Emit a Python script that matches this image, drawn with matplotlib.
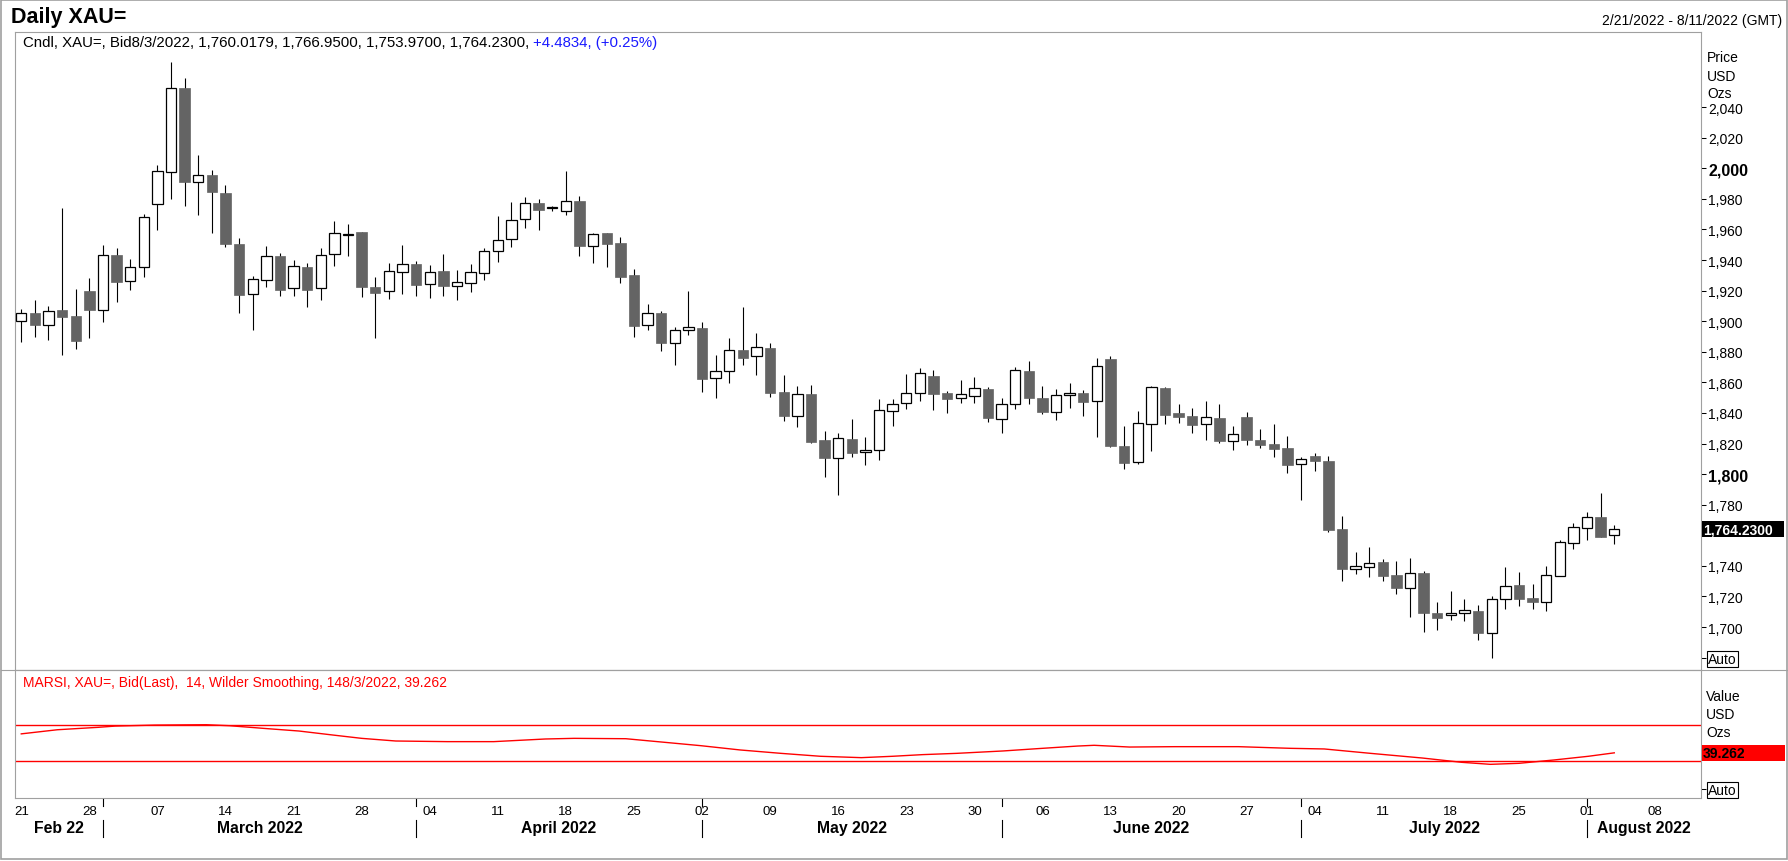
import numpy as np
import pandas as pd
import matplotlib
matplotlib.use("Agg")
import matplotlib.pyplot as plt
import matplotlib.transforms as mtransforms
from matplotlib.patches import Rectangle
from matplotlib.lines import Line2D

# ── Visual setup ─────────────────────────────────────────────────────────────
plt.rcParams.update({
    "font.family": "Liberation Sans",
    "font.size": 10,
})

W, H, DPI = 1788, 862, 100
FRAME = "#a0a0a0"
DOWN = "#646464"

# ── Data ─────────────────────────────────────────────────────────────────────
opens = [1899.9, 1905.2, 1897.7, 1907.3, 1903.4, 1919.8, 1907.5, 1943.3, 1926.1, 1935.2,
         1976.4, 1997.4, 2052.5, 1990.8, 1995.6, 1983.8, 1950.5, 1917.6, 1926.7, 1942.6,
         1921.5, 1935.5, 1921.5, 1943.8, 1956.6, 1958.4, 1922.4, 1919.6, 1932.0, 1937.4,
         1924.1, 1932.8, 1922.8, 1924.8, 1931.3, 1945.7, 1953.6, 1966.6, 1977.3, 1973.8,
         1971.9, 1978.6, 1949.4, 1957.7, 1951.2, 1930.3, 1897.2, 1905.4, 1885.5, 1894.0,
         1895.6, 1862.6, 1867.2, 1881.2, 1877.0, 1882.5, 1853.6, 1837.8, 1852.4, 1822.3,
         1810.4, 1823.0, 1814.3, 1815.6, 1841.1, 1846.3, 1852.9, 1864.2, 1853.1, 1849.6,
         1850.9, 1855.7, 1835.9, 1845.7, 1867.5, 1849.8, 1840.4, 1851.6, 1853.1, 1847.6,
         1875.3, 1818.4, 1807.7, 1832.6, 1856.4, 1840.0, 1838.0, 1832.6, 1836.7, 1821.5,
         1837.4, 1822.3, 1819.7, 1817.1, 1806.4, 1811.9, 1808.6, 1763.9, 1737.8, 1739.1,
         1742.5, 1734.0, 1725.3, 1735.3, 1709.2, 1707.6, 1708.9, 1710.5, 1696.3, 1718.1,
         1727.5, 1719.0, 1716.1, 1733.1, 1754.7, 1764.5, 1771.7, 1760.0179]
highs = [1908.0, 1913.9, 1909.9, 1974.0, 1921.1, 1928.3, 1949.8, 1947.9, 1940.5, 1970.1,
         2002.2, 2069.7, 2059.1, 2008.7, 1998.9, 1989.1, 1954.4, 1929.6, 1949.2, 1944.6,
         1940.0, 1938.1, 1947.9, 1965.6, 1963.6, 1958.6, 1928.9, 1938.1, 1949.9, 1939.4,
         1936.8, 1943.8, 1933.5, 1937.2, 1947.9, 1968.6, 1978.0, 1981.2, 1979.7, 1975.4,
         1998.3, 1981.7, 1957.7, 1957.9, 1955.1, 1934.2, 1911.3, 1906.5, 1896.0, 1919.8,
         1899.4, 1877.9, 1888.8, 1909.2, 1892.3, 1885.7, 1864.8, 1857.6, 1858.3, 1828.2,
         1826.9, 1836.1, 1824.3, 1849.2, 1849.2, 1865.5, 1869.4, 1868.1, 1854.2, 1861.6,
         1863.5, 1856.8, 1849.6, 1870.1, 1874.0, 1857.7, 1855.7, 1859.8, 1855.0, 1876.0,
         1877.1, 1831.5, 1841.3, 1857.7, 1857.0, 1845.9, 1843.3, 1847.9, 1845.9, 1831.3,
         1840.7, 1829.5, 1832.8, 1825.0, 1811.0, 1814.1, 1811.9, 1772.4, 1749.1, 1752.4,
         1744.5, 1743.2, 1745.1, 1736.4, 1716.4, 1723.6, 1718.3, 1714.4, 1720.3, 1739.2,
         1736.0, 1728.1, 1739.7, 1756.7, 1768.0, 1775.2, 1787.6, 1766.95]
lows = [1886.2, 1889.9, 1887.9, 1878.1, 1881.8, 1889.0, 1899.7, 1912.8, 1920.6, 1928.7,
        1959.9, 1979.9, 1975.3, 1969.5, 1957.7, 1948.8, 1905.6, 1894.5, 1922.4, 1916.7,
        1916.7, 1909.5, 1914.1, 1936.3, 1942.9, 1916.1, 1889.2, 1914.8, 1918.0, 1916.3,
        1915.0, 1916.7, 1914.1, 1919.3, 1926.7, 1939.0, 1948.8, 1961.2, 1959.9, 1972.3,
        1969.7, 1942.9, 1938.3, 1935.7, 1925.2, 1889.9, 1894.5, 1880.7, 1871.6, 1891.2,
        1853.9, 1849.5, 1859.8, 1871.6, 1865.0, 1850.1, 1835.0, 1831.0, 1820.1, 1798.3,
        1786.4, 1811.4, 1806.2, 1809.5, 1831.7, 1842.6, 1848.1, 1842.2, 1840.2, 1846.8,
        1846.8, 1834.3, 1827.1, 1842.8, 1846.1, 1839.6, 1835.6, 1843.3, 1838.3, 1824.5,
        1818.0, 1803.6, 1806.4, 1815.4, 1833.0, 1833.7, 1827.1, 1822.6, 1820.6, 1816.0,
        1819.1, 1817.3, 1811.4, 1801.0, 1783.3, 1802.3, 1762.4, 1730.4, 1734.9, 1733.0,
        1730.3, 1721.8, 1706.8, 1697.0, 1698.3, 1704.8, 1704.2, 1691.7, 1680.0, 1712.0,
        1714.0, 1712.0, 1710.7, 1733.1, 1751.2, 1757.1, 1759.1, 1753.97]
closes = [1905.2, 1897.7, 1906.9, 1903.0, 1887.3, 1907.5, 1943.1, 1925.9, 1935.2, 1967.9,
          1998.0, 2052.5, 1991.3, 1995.4, 1984.7, 1950.5, 1917.4, 1927.4, 1942.4, 1920.6,
          1935.9, 1920.6, 1943.1, 1957.5, 1957.2, 1922.6, 1918.7, 1932.6, 1937.2, 1923.9,
          1932.0, 1923.3, 1925.4, 1932.0, 1945.7, 1952.9, 1966.0, 1977.1, 1973.0, 1974.4,
          1978.4, 1949.4, 1956.9, 1950.7, 1929.2, 1897.1, 1905.2, 1886.0, 1894.0, 1896.0,
          1862.4, 1867.2, 1881.2, 1876.2, 1882.8, 1853.3, 1837.7, 1852.2, 1821.2, 1810.8,
          1823.4, 1814.1, 1815.6, 1841.7, 1845.7, 1852.9, 1866.0, 1852.6, 1849.4, 1852.2,
          1856.1, 1837.0, 1845.7, 1867.9, 1849.8, 1840.9, 1851.6, 1852.9, 1847.4, 1870.5,
          1818.6, 1807.5, 1833.2, 1856.8, 1838.9, 1837.6, 1832.4, 1837.2, 1821.9, 1826.1,
          1822.6, 1819.3, 1816.7, 1806.2, 1809.7, 1808.8, 1763.7, 1738.2, 1739.7, 1741.7,
          1733.6, 1725.7, 1735.1, 1709.4, 1706.1, 1708.9, 1710.9, 1696.3, 1718.1, 1726.6,
          1718.5, 1716.6, 1733.8, 1755.4, 1765.2, 1771.7, 1759.1, 1764.23]

# RSI curve, read at (trading-day index, value)
rsi_idx = [0, 2.65, 5.6, 6.9, 9.8, 13.6, 15.3, 17.8, 20.4, 22.9, 25.0, 27.5, 31.3, 34.7,
           38.5, 40.6, 44.4, 47.3, 49.9, 52.8, 55.8, 58.7, 61.7, 64.0, 66.2, 68.7, 72.1,
           74.6, 77.6, 78.8, 81.4, 84.7, 89.4, 93.2, 95.7, 99.1, 102.9, 105.8, 107.9,
           110.0, 112.6, 115.1, 117.0]
rsi_val = [60.0, 64.5, 67.1, 68.5, 69.6, 70.0, 68.9, 66.0, 63.1, 58.7, 55.1, 52.2, 51.5, 51.5,
           54.4, 55.1, 54.7, 50.7, 47.1, 42.4, 38.7, 35.5, 34.0, 35.5, 37.3, 38.7, 41.3,
           43.8, 46.7, 47.5, 45.6, 46.0, 46.0, 44.2, 43.5, 38.7, 33.6, 28.9, 26.7,
           27.8, 31.5, 35.5, 39.262]
rsi_levels = [70, 30]

price_ticks = list(range(1680, 2041, 20))
bold_ticks = [1800, 2000]
month_names = ["Feb 22", "March 2022", "April 2022", "May 2022",
               "June 2022", "July 2022", "August 2022"]

axis_dates = pd.bdate_range("2022-02-21", "2022-08-11")

last_close = closes[-1]
last_rsi = rsi_val[-1]

header = "Cndl, XAU=, Bid8/3/2022, 1,760.0179, 1,766.9500, 1,753.9700, 1,764.2300,"
header_chg = "+4.4834, (+0.25%)"
rsi_header = "MARSI, XAU=, Bid(Last),  14, Wilder Smoothing, 148/3/2022, 39.262"


def fx(x):
    return x / W


def fy(y):
    return 1 - y / H


# ── Figure ───────────────────────────────────────────────────────────────────
fig = plt.figure(figsize=(W / DPI, H / DPI), dpi=DPI)
ax = fig.add_axes([fx(15), fy(671), fx(1701) - fx(15), fy(33) - fy(671)])
ax2 = fig.add_axes([fx(15), fy(799), fx(1701) - fx(15), fy(671) - fy(799)])

xlim = (-0.46, 123.37)

# candles
o = np.array(opens)
c = np.array(closes)
x = np.arange(len(o))
up = c >= o
bottom = np.minimum(o, c)
height = np.abs(c - o)

ax.vlines(x, lows, highs, color="black", linewidth=0.8, zorder=2)
ax.bar(x[up], height[up], bottom=bottom[up], width=0.76, facecolor="white",
       edgecolor="black", linewidth=0.9, zorder=3)
ax.bar(x[~up], height[~up], bottom=bottom[~up], width=0.76, facecolor=DOWN,
       edgecolor=DOWN, linewidth=0.5, zorder=3)

ax.set_xlim(*xlim)
ax.set_ylim(1671.9, 2089.1)
ax.yaxis.tick_right()
ax.set_yticks(price_ticks)
# 1,760 sits under the last-price badge, 1,680 is replaced by "Auto"
ax.set_yticklabels(["Auto" if t == 1680 else ("" if t == 1760 else f"{t:,}")
                    for t in price_ticks])
ax.tick_params(axis="y", direction="out", length=3.6, width=0.75, pad=1.5,
               labelsize=10, colors="black")
ax.tick_params(axis="x", bottom=False, labelbottom=False)
for t, lab in zip(price_ticks, ax.get_yticklabels()):
    if t in bold_ticks:
        lab.set_fontweight("bold")
        lab.set_fontsize(11.5)
    if t == 1680:
        lab.set_bbox(dict(facecolor="white", edgecolor="black", pad=0.8, linewidth=0.8))
for sp in ax.spines.values():
    sp.set_color(FRAME)
    sp.set_linewidth(0.8)

# RSI panel
ax2.plot(rsi_idx, rsi_val, color="red", linewidth=1.0)
for lvl in rsi_levels:
    ax2.axhline(lvl, color="red", linewidth=1.0)
ax2.set_xlim(*xlim)
ax2.set_ylim(-10.1, 129.8)
ax2.yaxis.tick_right()
ax2.set_yticks([0])
ax2.set_yticklabels(["Auto"])
ax2.tick_params(axis="y", direction="out", length=3.6, width=0.75, pad=1.5,
                labelsize=10, colors="black")
ax2.get_yticklabels()[0].set_bbox(dict(facecolor="white", edgecolor="black",
                                       pad=0.8, linewidth=0.8))
ax2.tick_params(axis="x", bottom=False, labelbottom=False)
for sp in ax2.spines.values():
    sp.set_color(FRAME)
    sp.set_linewidth(0.8)

# date axis (x in data, y in figure coordinates)
blend = mtransforms.blended_transform_factory(ax2.transData, fig.transFigure)
for i, d in enumerate(axis_dates):
    if d.weekday() == 0:
        ax2.text(i, fy(812), f"{d.day:02d}", transform=blend, ha="center",
                 va="center", fontsize=9.5, clip_on=False)

month_starts = [i for i in range(1, len(axis_dates))
                if axis_dates[i].month != axis_dates[i - 1].month]
for i in month_starts:
    for y0, y1 in [(800, 807), (821, 838)]:
        fig.add_artist(Line2D([i, i], [fy(y0), fy(y1)], transform=blend,
                              color="black", linewidth=0.8))
edges = [xlim[0]] + month_starts + [xlim[1]]
for name, a, b in zip(month_names, edges[:-1], edges[1:]):
    ax2.text((a + b) / 2, fy(829), name, transform=blend, ha="center",
             va="center", fontsize=11.3, fontweight="bold", clip_on=False)

# ── Texts and frames ─────────────────────────────────────────────────────────
fig.add_artist(Rectangle((fx(1), fy(860)), fx(1786), fy(1) - fy(860),
                         transform=fig.transFigure, fill=False,
                         edgecolor=FRAME, linewidth=1.2))
fig.add_artist(Line2D([fx(1), fx(1787)], [fy(671), fy(671)], color=FRAME, linewidth=0.8))

fig.text(fx(11), fy(17.5), "Daily XAU=", fontsize=15.5, fontweight="bold", va="center")
fig.text(fx(1782), fy(21), "2/21/2022 - 8/11/2022 (GMT)", ha="right", va="center",
         fontsize=10)
t1 = fig.text(fx(23), fy(43), header, va="center", fontsize=10.8)
ax.annotate(header_chg, xy=(1, 0.5), xycoords=t1, xytext=(3.0, 0),
            textcoords="offset points", va="center", ha="left", fontsize=10.8,
            color="#1a1aff", annotation_clip=False)

for y, s in [(58.5, "Price"), (77, "USD"), (93.5, "Ozs")]:
    fig.text(fx(1707), fy(y), s, va="center", fontsize=10)
for y, s in [(697, "Value"), (715, "USD"), (733, "Ozs")]:
    fig.text(fx(1706), fy(y), s, va="center", fontsize=10)

# last price badge
fig.add_artist(Rectangle((fx(1702), fy(538.3)), fx(1784) - fx(1702), fy(522.3) - fy(538.3),
                         transform=fig.transFigure, facecolor="black", edgecolor="none"))
fig.text(fx(1703), fy(530.3), f"{last_close:,.4f}", color="white", fontweight="bold",
         va="center", fontsize=10)

# last RSI badge
fig.add_artist(Rectangle((fx(1702), fy(761.7)), fx(1785) - fx(1702), fy(746) - fy(761.7),
                         transform=fig.transFigure, facecolor="red", edgecolor="none"))
fig.text(fx(1703), fy(754), f"{last_rsi:.3f}", color="black", fontweight="bold",
         va="center", fontsize=10)

fig.text(fx(23), fy(683), rsi_header, color="red", va="center", fontsize=10)

fig.savefig("out.png", dpi=DPI)
